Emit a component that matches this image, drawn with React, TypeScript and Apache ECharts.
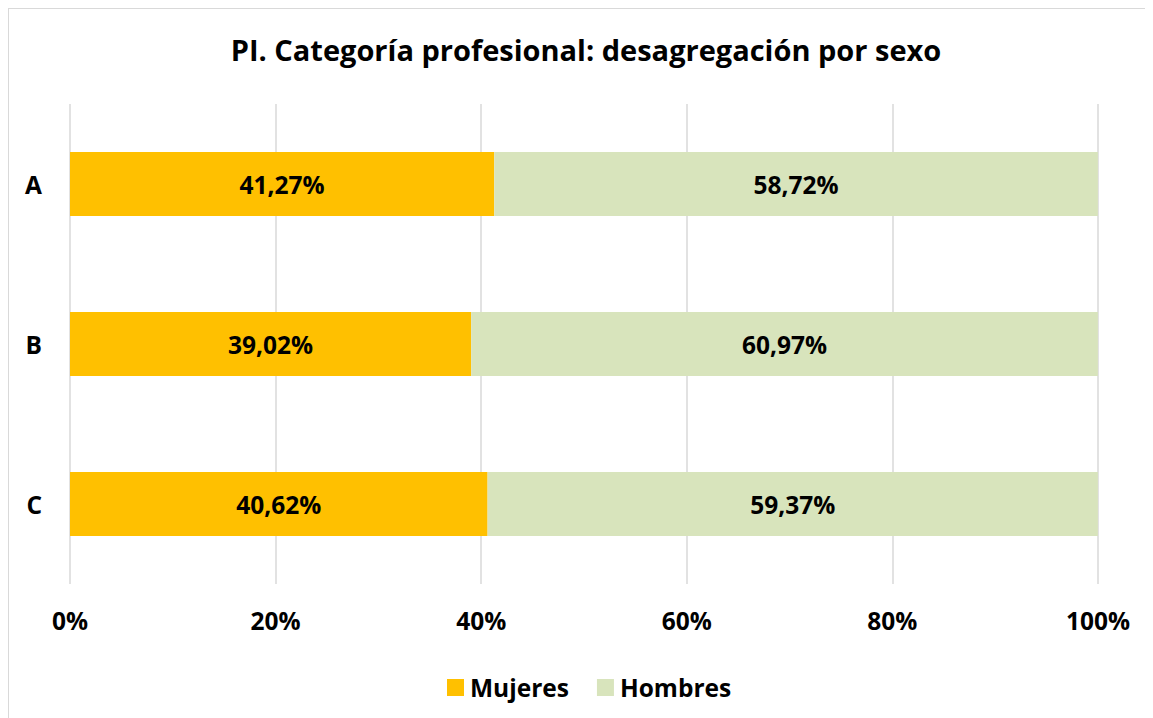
import React, { useEffect, useRef } from "react";
import * as echarts from "echarts";

const categories = ["A", "B", "C"];
const mujeres = [41.27, 39.02, 40.62];
const hombres = [58.72, 60.97, 59.37];
const xTicks = [0, 20, 40, 60, 80, 100];

const FONT = "Open Sans";
const FS = 24.5;

export default function App() {
  const ref = useRef<HTMLDivElement>(null);
  useEffect(() => {
    document.body.style.overflow = "hidden";
    const chart = echarts.init(ref.current!, null, { renderer: "svg" });
    const fmt = (p: any) => p.value.toFixed(2).replace(".", ",") + "%";
    chart.setOption({
      animation: false,
      textStyle: { fontFamily: FONT },
      title: {
        text: "PI. Categoría profesional: desagregación por sexo",
        left: 572,
        top: 21,
        textAlign: "center",
        textStyle: { fontFamily: FONT, fontSize: 29, fontWeight: "bold", color: "#000" },
      },
      legend: {
        data: ["Mujeres", "Hombres"],
        left: 433,
        top: 661,
        itemWidth: 17,
        itemHeight: 17,
        itemGap: 28,
        icon: "rect",
        textStyle: { fontFamily: FONT, fontSize: FS, fontWeight: "bold", color: "#000", padding: [0, 0, 0, 1] },
      },
      grid: { left: 61, width: 1028, top: 95, height: 480, containLabel: false },
      xAxis: {
        type: "value",
        min: 0,
        max: 100,
        interval: 20,
        axisLine: { show: false },
        axisTick: { show: false },
        splitLine: { lineStyle: { color: "#d9d9d9", width: 1.5 } },
        axisLabel: {
          margin: 24,
          formatter: (v: number) => (xTicks.includes(v) ? v + "%" : ""),
          fontFamily: FONT,
          fontSize: FS,
          fontWeight: "bold",
          color: "#000",
        },
      },
      yAxis: {
        type: "category",
        data: categories,
        inverse: true,
        axisLine: { show: false },
        axisTick: { show: false },
        axisLabel: { margin: 28, fontFamily: FONT, fontSize: FS, fontWeight: "bold", color: "#000" },
      },
      series: [
        {
          name: "Mujeres",
          type: "bar",
          stack: "t",
          data: mujeres,
          barWidth: "40%",
          itemStyle: { color: "#FFC000" },
          label: { show: true, position: "inside", formatter: fmt, fontFamily: FONT, fontSize: FS, fontWeight: "bold", color: "#000" },
        },
        {
          name: "Hombres",
          type: "bar",
          stack: "t",
          data: hombres,
          barWidth: "40%",
          itemStyle: { color: "#D8E4BC" },
          label: { show: true, position: "inside", formatter: fmt, fontFamily: FONT, fontSize: FS, fontWeight: "bold", color: "#000" },
        },
      ],
    });
    return () => chart.dispose();
  }, []);
  return (
    <div
      style={{
        width: 1145,
        height: 710,
        borderTop: "1px solid #d9d9d9",
        borderLeft: "1px solid #d9d9d9",
        boxSizing: "border-box",
      }}
    >
      <div ref={ref} style={{ width: 1144, height: 709 }} />
    </div>
  );
}
